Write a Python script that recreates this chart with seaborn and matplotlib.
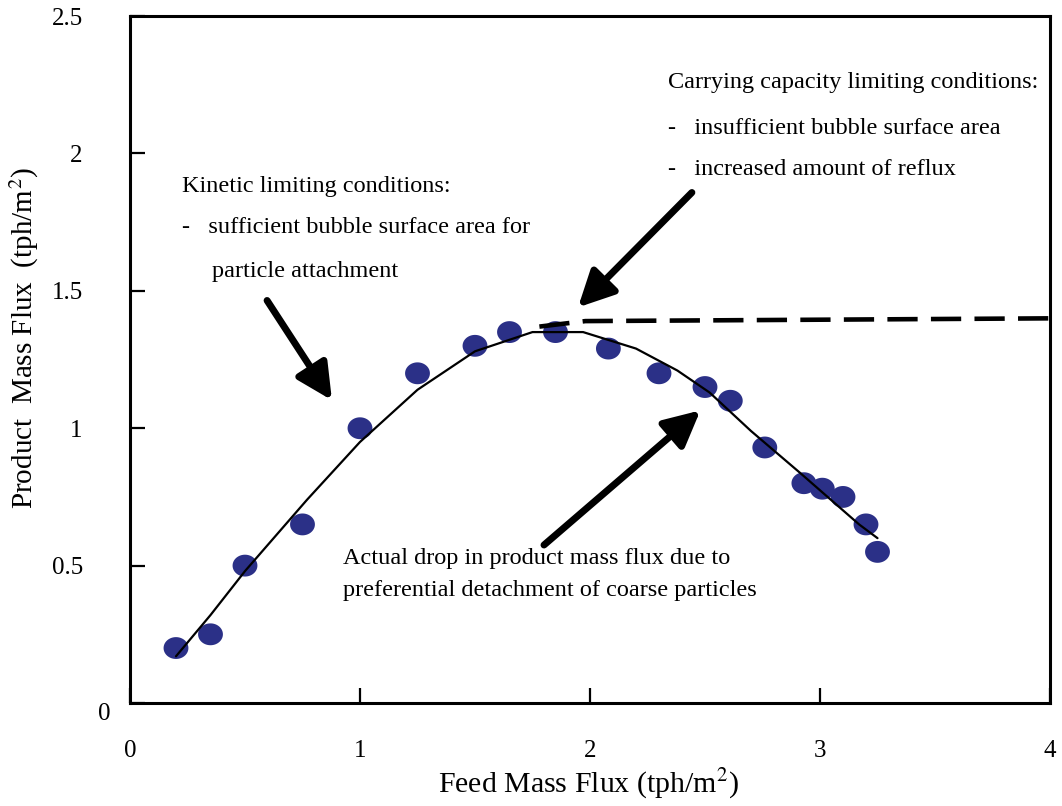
import numpy as np
import pandas as pd
import seaborn as sns
import matplotlib
matplotlib.use("Agg")
import matplotlib.pyplot as plt
from matplotlib.path import Path

# ---- data ----
feed_pts = [0.20, 0.35, 0.50, 0.75, 1.00, 1.25, 1.50, 1.65, 1.85, 2.08, 2.30, 2.50, 2.61, 2.76, 2.93, 3.01, 3.10, 3.20, 3.25]
prod_pts = [0.20, 0.25, 0.50, 0.65, 1.00, 1.20, 1.30, 1.35, 1.35, 1.29, 1.20, 1.15, 1.10, 0.93, 0.80, 0.78, 0.75, 0.65, 0.55]

curve_x = [0.20, 0.35, 0.50, 0.77, 1.00, 1.25, 1.50, 1.75, 1.97, 2.20, 2.38, 2.52, 2.70, 2.91, 3.17, 3.25]
curve_y = [0.17, 0.32, 0.48, 0.74, 0.95, 1.14, 1.28, 1.35, 1.35, 1.29, 1.21, 1.13, 0.99, 0.84, 0.65, 0.60]

dash_x = [1.78, 1.98, 4.00]
dash_y = [1.37, 1.39, 1.40]

x_ticks = [0, 1, 2, 3, 4]
y_ticks = [0, 0.5, 1, 1.5, 2, 2.5]
y_tick_labels = ["", "0.5", "1", "1.5", "2", "2.5"]

# ---- style ----
sns.set_theme(style="white")
plt.rcParams['font.family'] = ['Liberation Serif', 'DejaVu Serif']
plt.rcParams['mathtext.fontset'] = 'stix'
plt.rcParams['text.color'] = 'black'

fig = plt.figure(figsize=(10.62, 8.06), dpi=100)
ax = fig.add_axes([0.1224, 0.1278, 0.8663, 0.8522])

df_pts = pd.DataFrame({"feed": feed_pts, "prod": prod_pts})
df_curve = pd.DataFrame({"feed": curve_x, "prod": curve_y})
df_dash = pd.DataFrame({"feed": dash_x, "prod": dash_y})

# slightly flattened round marker
t = np.linspace(0, 2 * np.pi, 60)
ell = Path(np.column_stack([np.cos(t), 0.88 * np.sin(t)]), closed=True)

sns.lineplot(data=df_curve, x="feed", y="prod", ax=ax, color="black", lw=1.6, sort=False, zorder=3)
sns.lineplot(data=df_dash, x="feed", y="prod", ax=ax, color="black", lw=3.3, sort=False, zorder=3)
ax.lines[-1].set_dashes([6.6, 2.9])
sns.scatterplot(data=df_pts, x="feed", y="prod", ax=ax, color="#2B3087", s=320,
                marker=ell, edgecolor="none", linewidth=0, zorder=2)

ax.set_xlim(0, 4)
ax.set_ylim(0, 2.5)
ax.set_xticks(x_ticks)
ax.set_xticklabels([str(t) for t in x_ticks])
ax.set_yticks(y_ticks)
ax.set_yticklabels(y_tick_labels)
ax.text(-0.11, 0.0, "0", fontsize=18, ha="center", va="top", clip_on=False)

for side in ["left", "right", "top", "bottom"]:
    ax.spines[side].set_visible(True)
    ax.spines[side].set_color("black")
    ax.spines[side].set_linewidth(2.2)

ax.tick_params(axis="x", direction="in", length=11, width=1.6, pad=27, labelsize=18,
               bottom=True, top=False, colors="black")
ax.tick_params(axis="y", direction="in", length=11, width=1.6, pad=34, labelsize=18,
               left=True, right=False, colors="black")

ax.set_xlabel("Feed Mass Flux (tph/m$^2$)", fontsize=21.5, color="black")
ax.set_ylabel("Product  Mass Flux  (tph/m$^2$)", fontsize=21, color="black")
ax.xaxis.set_label_coords(0.498, -0.093)
ax.yaxis.set_label_coords(-0.097, 0.531)

# ---- annotations ----
tfs = 17.5
ax.text(2.34, 2.26, "Carrying capacity limiting conditions:", fontsize=tfs, va="center", ha="left")
ax.text(2.34, 2.09, "-   insufficient bubble surface area", fontsize=tfs, va="center", ha="left")
ax.text(2.34, 1.94, "-   increased amount of reflux", fontsize=tfs, va="center", ha="left")
ax.text(0.226, 1.88, "Kinetic limiting conditions:", fontsize=tfs, va="center", ha="left")
ax.text(0.226, 1.73, "-   sufficient bubble surface area for", fontsize=tfs, va="center", ha="left")
ax.text(0.357, 1.57, "particle attachment", fontsize=tfs, va="center", ha="left")
ax.text(0.926, 0.527, "Actual drop in product mass flux due to", fontsize=tfs, va="center", ha="left")
ax.text(0.926, 0.41, "preferential detachment of coarse particles", fontsize=tfs, va="center", ha="left")

arrow_kw = dict(arrowstyle="-|>,head_length=0.9,head_width=0.45", lw=5, color="black",
                mutation_scale=24, shrinkA=0, shrinkB=0)
ax.annotate("", xy=(0.878, 1.102), xytext=(0.596, 1.465), arrowprops=arrow_kw)
ax.annotate("", xy=(1.948, 1.44), xytext=(2.443, 1.858), arrowprops=arrow_kw)
ax.annotate("", xy=(2.48, 1.065), xytext=(1.80, 0.575), arrowprops=arrow_kw)

fig.savefig("out.png", dpi=100)
